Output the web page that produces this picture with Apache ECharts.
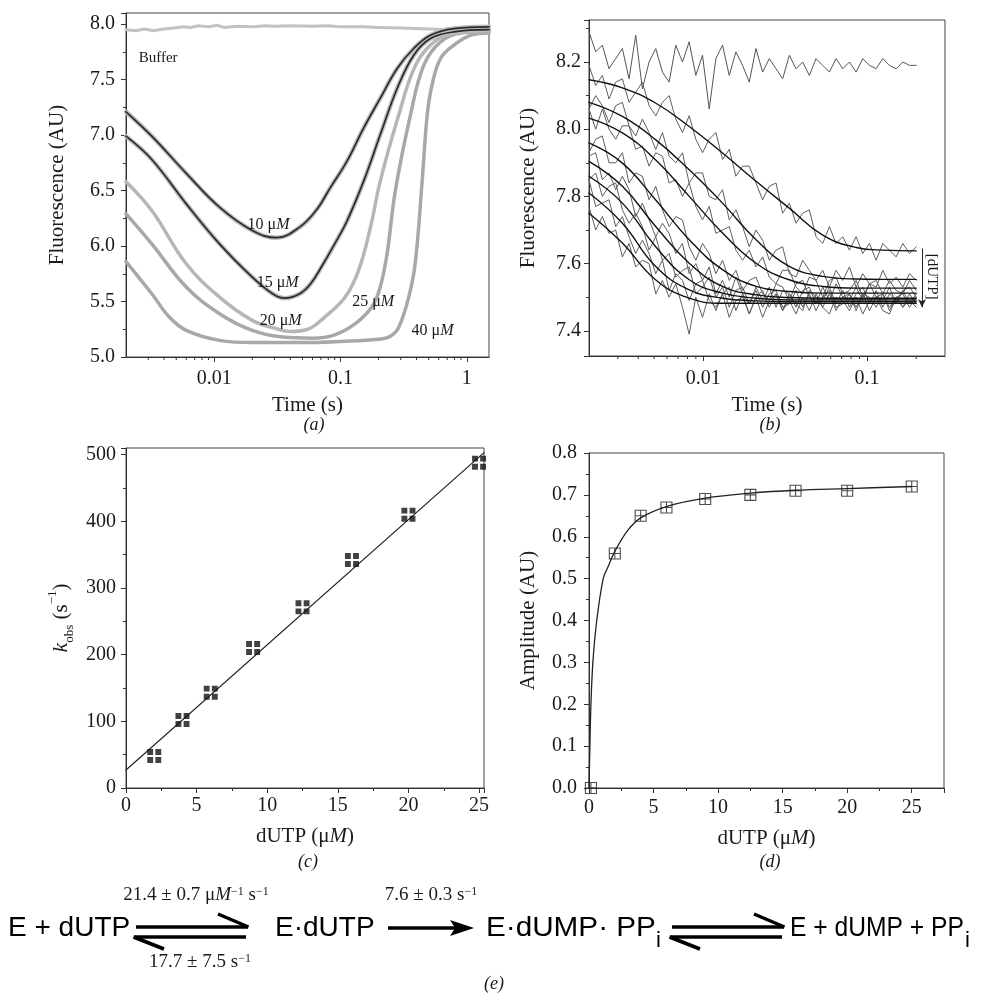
<!DOCTYPE html>
<html><head><meta charset="utf-8">
<script src="https://cdn.jsdelivr.net/npm/echarts@6/dist/echarts.min.js"></script>
<style>html,body{margin:0;padding:0;background:#fff}#c{width:988px;height:996px}</style>
</head><body><div id="c"></div>
<script>
// ---------------- Panel (a): fluorescence vs time (log) ----------------
const A_BUF = [[0.002,7.95],[0.0024,7.94],[0.0028,7.955],[0.0033,7.94],[0.004,7.955],[0.0048,7.965],[0.0056,7.975],[0.0065,7.97],[0.0075,7.985],[0.009,7.975],[0.0105,7.99],[0.012,7.97],[0.015,7.98],[0.02,7.975],[0.025,7.985],[0.03,7.98],[0.04,7.985],[0.06,7.98],[0.08,7.985],[0.1,7.975],[0.15,7.975],[0.2,7.97],[0.3,7.965],[0.5,7.955],[0.7,7.95],[1.0,7.95],[1.5,7.955]];
const A_10 = [[0.002,7.21],[0.0032,6.99],[0.006,6.655],[0.011,6.35],[0.02,6.14],[0.031,6.075],[0.0475,6.17],[0.065,6.33],[0.0824,6.52],[0.112,6.76],[0.152,7.06],[0.206,7.33],[0.281,7.60],[0.38,7.78],[0.516,7.90],[0.79,7.96],[1.5,7.975]];
const A_15 = [[0.002,6.99],[0.0032,6.78],[0.006,6.38],[0.011,6.02],[0.02,5.72],[0.029,5.57],[0.036,5.53],[0.0475,5.57],[0.058,5.66],[0.073,5.84],[0.09,6.02],[0.112,6.22],[0.152,6.58],[0.206,7.0],[0.281,7.42],[0.38,7.72],[0.516,7.87],[0.79,7.93],[1.5,7.95]];
const A_20 = [[0.002,6.58],[0.0032,6.32],[0.006,5.84],[0.011,5.54],[0.02,5.33],[0.03,5.26],[0.04,5.23],[0.055,5.25],[0.075,5.36],[0.109,5.54],[0.139,5.78],[0.172,6.16],[0.206,6.58],[0.289,7.18],[0.393,7.63],[0.55,7.84],[0.8,7.92],[1.5,7.94]];
const A_25 = [[0.002,6.29],[0.0032,6.02],[0.006,5.63],[0.011,5.39],[0.02,5.24],[0.035,5.18],[0.06,5.17],[0.09,5.20],[0.131,5.30],[0.177,5.45],[0.205,5.62],[0.233,5.92],[0.272,6.5],[0.358,7.18],[0.457,7.63],[0.62,7.84],[0.9,7.92],[1.5,7.93]];
const A_40 = [[0.002,5.86],[0.0032,5.57],[0.0044,5.36],[0.006,5.24],[0.011,5.15],[0.02,5.13],[0.05,5.13],[0.1,5.14],[0.2,5.16],[0.25,5.19],[0.29,5.27],[0.347,5.54],[0.39,5.84],[0.443,6.58],[0.486,7.18],[0.533,7.46],[0.62,7.69],[0.79,7.81],[1.08,7.90],[1.5,7.92]];
const A_LABELS = [
  {text:'Buffer', at:[0.00252,7.69], align:'left'},
  {text:'10 μ{i|M}', at:[0.0269,6.19], align:'center'},
  {text:'15 μ{i|M}', at:[0.0318,5.665], align:'center'},
  {text:'20 μ{i|M}', at:[0.0336,5.33], align:'center'},
  {text:'25 μ{i|M}', at:[0.1815,5.495], align:'center'},
  {text:'40 μ{i|M}', at:[0.536,5.233], align:'center'}
];
const LOG_MINOR_A = [0.003,0.004,0.005,0.006,0.007,0.008,0.009,0.02,0.03,0.04,0.05,0.06,0.07,0.08,0.09,0.2,0.3,0.4,0.5,0.6,0.7,0.8,0.9];

// ---------------- Panel (b): noisy traces + fits ----------------
const B_T = [0.002,0.002197,0.002413,0.002651,0.002912,0.003199,0.003514,0.00386,0.00424,0.004658,0.005117,0.005623,0.006176,0.006785,0.007453,0.008188,0.008995,0.009883,0.01086,0.01193,0.0131,0.0144,0.01581,0.01737,0.01908,0.02096,0.02303,0.0253,0.0278,0.03053,0.03354,0.03685,0.04048,0.04446,0.04885,0.05366,0.05895,0.06476,0.07113,0.07815,0.08586,0.0943,0.1036,0.1138,0.125,0.1373,0.1509,0.1657,0.1821,0.2];
const B_BUF = [8.29,8.23,8.25,8.18,8.21,8.24,8.15,8.28,8.12,8.20, 8.24,8.17,8.14,8.25,8.20,8.26,8.16,8.22,8.06,8.21, 8.25,8.16,8.23,8.19,8.14,8.24,8.17,8.21,8.18,8.15, 8.22,8.18,8.20,8.16,8.21,8.19,8.17,8.21,8.18,8.20, 8.17,8.21,8.19,8.18,8.21,8.19,8.18,8.20,8.19,8.19];
const B_D1 = [8.19,8.13,8.16,8.09,8.14,8.15,8.08,8.11,8.14,8.07, 8.04,8.08,8.10,8.03,7.99,8.04,7.97,7.93,7.97,7.99, 7.91,7.94,7.86,7.89,7.89,7.84,7.79,7.83,7.84,7.75, 7.78,7.72,7.75,7.76,7.68,7.66,7.71,7.66,7.68,7.64, 7.68,7.63,7.66,7.61,7.66,7.64,7.62,7.66,7.63,7.65];
const B_D2 = [8.06,8.10,8.07,8.02,8.07,8.08,8.01,7.98,8.03,7.99, 7.94,7.99,7.92,7.90,7.93,7.84,7.87,7.87,7.80,7.79, 7.82,7.73,7.76,7.71,7.65,7.70,7.67,7.61,7.64,7.65, 7.57,7.56,7.61,7.58,7.55,7.58,7.53,7.58,7.55,7.59, 7.53,7.57,7.54,7.53,7.58,7.54,7.56,7.53,7.57,7.55];
const B_D3 = [8.06,8.00,8.06,8.00,7.97,8.01,8.01,7.94,7.95,7.89, 7.93,7.92,7.84,7.85,7.80,7.84,7.77,7.73,7.77,7.69, 7.70,7.71,7.64,7.61,7.64,7.59,7.62,7.56,7.54,7.58, 7.58,7.53,7.51,7.56,7.55,7.50,7.55,7.56,7.51,7.52, 7.55,7.50,7.54,7.55,7.51,7.55,7.52,7.51,7.55,7.52];
const B_D4 = [7.93,7.97,7.98,7.90,7.90,7.93,7.84,7.87,7.86,7.79, 7.83,7.76,7.71,7.74,7.73,7.65,7.61,7.66,7.63,7.57, 7.61,7.55,7.58,7.52,7.55,7.56,7.51,7.49,7.54,7.53, 7.49,7.54,7.55,7.50,7.48,7.53,7.49,7.54,7.50,7.49, 7.53,7.49,7.54,7.50,7.49,7.53,7.48,7.52,7.53,7.50];
const B_D5 = [7.92,7.93,7.85,7.87,7.82,7.86,7.82,7.74,7.78,7.73, 7.68,7.72,7.69,7.63,7.66,7.57,7.60,7.55,7.59,7.51, 7.55,7.50,7.56,7.51,7.48,7.53,7.49,7.53,7.47,7.52, 7.51,7.47,7.52,7.53,7.48,7.49,7.53,7.48,7.52,7.47, 7.51,7.53,7.48,7.52,7.47,7.51,7.49,7.52,7.48,7.51];
const B_D6 = [7.85,7.87,7.80,7.83,7.84,7.76,7.72,7.75,7.71,7.64, 7.68,7.61,7.63,7.56,7.58,7.59,7.51,7.53,7.56,7.50, 7.53,7.47,7.52,7.53,7.48,7.52,7.47,7.51,7.52,7.47, 7.48,7.52,7.47,7.51,7.46,7.50,7.52,7.47,7.48,7.51, 7.47,7.51,7.46,7.50,7.51,7.47,7.50,7.47,7.51,7.48];
const B_D7 = [7.85,7.77,7.78,7.79,7.71,7.74,7.68,7.63,7.67,7.63, 7.57,7.61,7.52,7.57,7.55,7.49,7.54,7.55,7.49,7.47, 7.51,7.53,7.46,7.51,7.45,7.50,7.52,7.47,7.51,7.46, 7.51,7.48,7.46,7.52,7.50,7.47,7.51,7.46,7.50,7.51, 7.46,7.51,7.50,7.47,7.51,7.46,7.50,7.51,7.47,7.50];
const B_D8 = [7.77,7.70,7.74,7.69,7.70,7.62,7.66,7.59,7.61,7.60, 7.51,7.55,7.50,7.54,7.47,7.39,7.50,7.44,7.51,7.46, 7.51,7.44,7.49,7.50,7.45,7.50,7.44,7.49,7.51,7.46, 7.49,7.45,7.50,7.46,7.51,7.47,7.45,7.50,7.49,7.46, 7.50,7.45,7.49,7.50,7.46,7.45,7.50,7.47,7.49,7.47];
const B_FIT_T = [0.002,0.0032,0.0051,0.0082,0.0131,0.021,0.0335,0.0537,0.0859,0.125,0.2];
const B_F1 = [8.147,8.123,8.078,8.008,7.929,7.845,7.765,7.685,7.648,7.640,7.638];
const B_F2 = [8.080,8.038,7.969,7.879,7.780,7.671,7.592,7.562,7.554,7.553,7.553];
const B_F3 = [8.033,7.989,7.909,7.800,7.691,7.601,7.552,7.532,7.527,7.527,7.527];
const B_F4 = [7.959,7.899,7.790,7.671,7.582,7.532,7.517,7.512,7.512,7.512,7.512];
const B_F5 = [7.904,7.830,7.711,7.601,7.532,7.507,7.499,7.497,7.497,7.497,7.497];
const B_F6 = [7.860,7.780,7.651,7.552,7.512,7.497,7.492,7.492,7.492,7.492,7.492];
const B_F7 = [7.810,7.720,7.592,7.522,7.497,7.489,7.487,7.487,7.487,7.487,7.487];
const B_F8 = [7.750,7.661,7.552,7.497,7.482,7.482,7.482,7.482,7.482,7.482,7.482];
const B_ARROW = [[0.217,7.645],[0.217,7.47]];
const B_ARROW_LABEL = [0.249,7.561];
const LOG_MINOR_B = [0.003,0.004,0.005,0.006,0.007,0.008,0.009,0.02,0.03,0.04,0.05,0.06,0.07,0.08,0.09,0.2];

// ---------------- Panel (c): kobs vs dUTP ----------------
const C_X = [2,4,6,9,12.5,16,20,25];
const C_Y = [48,102,143,210,271,342,410,488];
const C_FIT_X = [0,25.35];
const C_FIT_Y = [27,503];

// ---------------- Panel (d): amplitude vs dUTP ----------------
const D_X = [0.15,2,4,6,9,12.5,16,20,25];
const D_Y = [0.0,0.56,0.65,0.67,0.69,0.70,0.71,0.71,0.72];
const D_FIT_X = [0,0.07,0.15,0.3,0.6,1.1,1.5,2,3,4,6,9,12.5,16,20,25];
const D_FIT_Y = [0,0.1,0.2,0.3,0.4,0.5,0.53,0.565,0.615,0.645,0.672,0.692,0.704,0.711,0.715,0.72];

// ---------------- Rendering ----------------
const SERIF = 'Liberation Serif', SANS = 'Liberation Sans';
const INK = '#1a1a1a', LINE = '#333';
const pairs = (xs, ys) => xs.map((x, i) => [x, ys[i]]);
function clean(o){ Object.keys(o).forEach(k=>{ if(o[k]===undefined) delete o[k]; else if(o[k] && typeof o[k]==='object' && !Array.isArray(o[k])) clean(o[k]); }); return o; }
const RICH = {
  i:{fontStyle:'italic',fontFamily:SERIF,fontSize:21,color:INK},
  k:{fontStyle:'italic',fontFamily:SERIF,fontSize:22,color:INK,lineHeight:30},
  sub:{fontFamily:SERIF,fontSize:13,color:INK,verticalAlign:'bottom',lineHeight:14},
  sup:{fontFamily:SERIF,fontSize:13,color:INK,verticalAlign:'top',lineHeight:14}
};
function mkAxis(o){
  return clean({
    type:o.type, gridIndex:o.grid, min:o.min, max:o.max, interval:o.interval,
    minInterval:o.minInterval, maxInterval:o.maxInterval, splitNumber:o.splitNumber,
    logBase:o.type==='log'?10:undefined,
    name:o.name, nameLocation:'middle', nameGap:o.nameGap,
    nameTextStyle:{color:INK,fontFamily:SERIF,fontSize:21,lineHeight:30,rich:RICH},
    axisLine:{show:true,onZero:false,lineStyle:{color:LINE,width:1}},
    axisTick:{show:true,inside:false,length:5,lineStyle:{color:LINE,width:1}},
    minorTick:{show:o.type!=='log',splitNumber:2,length:3,lineStyle:{color:LINE,width:1}},
    splitLine:{show:false}, minorSplitLine:{show:false},
    axisLabel:{color:INK,fontFamily:SERIF,fontSize:20,margin:o.margin,formatter:o.fmt,
      showMinLabel:o.hideMin?false:undefined, showMaxLabel:o.hideMax?false:undefined}
  });
}
const logFmt = v => String(+(+v).toPrecision(2));
const f1 = v => (+v).toFixed(1);

const grids = [
  {left:126,top:13,width:363,height:344},
  {left:589,top:20,width:356,height:336},
  {left:126,top:448,width:358,height:340},
  {left:589,top:453,width:355,height:335}
].map(g => Object.assign(g,{show:true,borderColor:'#444',borderWidth:1,backgroundColor:'transparent',containLabel:false,outerBoundsMode:'none'}));

const xAxes = [
  mkAxis({type:'log',grid:0,min:0.002,max:1.5,name:'Time (s)',nameGap:33,margin:12,fmt:logFmt,hideMin:true,hideMax:true}),
  mkAxis({type:'log',grid:1,min:0.002,max:0.3,name:'Time (s)',nameGap:34,margin:13,fmt:logFmt,hideMin:true,hideMax:true}),
  mkAxis({type:'value',grid:2,min:0,max:25.35,interval:5,name:'dUTP (μ{i|M})',nameGap:33,margin:8,hideMax:true}),
  mkAxis({type:'value',grid:3,min:0,max:27.5,interval:5,name:'dUTP (μ{i|M})',nameGap:35,margin:10,hideMax:true})
];
const yAxes = [
  mkAxis({type:'value',grid:0,min:5.0,max:8.1,interval:0.5,name:'Fluorescence (AU)',nameGap:54,margin:11,fmt:f1,hideMax:true}),
  mkAxis({type:'value',grid:1,min:7.325,max:8.325,splitNumber:5,minInterval:0.2,maxInterval:0.2,name:'Fluorescence (AU)',nameGap:46,margin:8,fmt:f1,hideMin:true,hideMax:true}),
  mkAxis({type:'value',grid:2,min:0,max:510,interval:100,name:'{k|k}{sub|obs} (s{sup|−1})',nameGap:50,margin:10,hideMax:true}),
  mkAxis({type:'value',grid:3,min:0,max:0.8,interval:0.1,name:'Amplitude (AU)',nameGap:46,margin:12,fmt:f1})
];

function line(gi, data, color, width, z, smooth){
  return {type:'line',xAxisIndex:gi,yAxisIndex:gi,data:data,symbol:'none',showSymbol:false,
    smooth:smooth===undefined?0.4:smooth,lineStyle:{color:color,width:width,cap:'round',join:'round'},z:z,silent:true,animation:false};
}
function minorLogTicks(gi, vals, ymin){
  return {type:'custom',xAxisIndex:gi,yAxisIndex:gi,silent:true,clip:false,z:6,animation:false,
    data: vals.map(t=>[t, ymin]),
    renderItem:(params, api)=>{
      const x = api.coord([api.value(0), api.value(1)])[0];
      const cs = params.coordSys; const yb = cs.y + cs.height;
      return {type:'line',shape:{x1:x,y1:yb,x2:x,y2:yb+3},style:{stroke:LINE,lineWidth:1}};
    }};
}

const series = [
  // (a)
  line(0, A_BUF, '#c2c2c2', 3, 2, 0),
  line(0, A_40, '#a8a8a8', 3.5, 2),
  line(0, A_25, '#a8a8a8', 3.5, 2),
  line(0, A_20, '#b6b6b6', 3.5, 2),
  line(0, A_15, '#bcbcbc', 4.5, 2),
  line(0, A_10, '#bcbcbc', 4.5, 2),
  line(0, A_15, '#2a2a2a', 1.7, 4),
  line(0, A_10, '#2a2a2a', 1.7, 4),
  minorLogTicks(0, LOG_MINOR_A, 5.0),
  // (b) data
  line(1, pairs(B_T,B_BUF), '#555', 1, 2, 0),
  line(1, pairs(B_T,B_D1), '#5e5e5e', 1, 2, 0),
  line(1, pairs(B_T,B_D2), '#5e5e5e', 1, 2, 0),
  line(1, pairs(B_T,B_D3), '#5e5e5e', 1, 2, 0),
  line(1, pairs(B_T,B_D4), '#5e5e5e', 1, 2, 0),
  line(1, pairs(B_T,B_D5), '#5e5e5e', 1, 2, 0),
  line(1, pairs(B_T,B_D6), '#5e5e5e', 1, 2, 0),
  line(1, pairs(B_T,B_D7), '#5e5e5e', 1, 2, 0),
  line(1, pairs(B_T,B_D8), '#5e5e5e', 1, 2, 0),
  // (b) fits
  line(1, pairs(B_FIT_T,B_F1), '#111', 1.4, 4, 0.45),
  line(1, pairs(B_FIT_T,B_F2), '#111', 1.4, 4, 0.45),
  line(1, pairs(B_FIT_T,B_F3), '#111', 1.4, 4, 0.45),
  line(1, pairs(B_FIT_T,B_F4), '#111', 1.4, 4, 0.45),
  line(1, pairs(B_FIT_T,B_F5), '#111', 1.4, 4, 0.45),
  line(1, pairs(B_FIT_T,B_F6), '#111', 1.4, 4, 0.45),
  line(1, pairs(B_FIT_T,B_F7), '#111', 1.4, 4, 0.45),
  Object.assign(line(1, pairs(B_FIT_T,B_F8), '#111', 1.4, 4, 0.45), {
    markLine:{silent:true,symbol:['none','arrow'],symbolSize:[6,8],animation:false,
      lineStyle:{color:'#222',width:1,type:'solid'},label:{show:false},
      data:[[{coord:B_ARROW[0]},{coord:B_ARROW[1]}]]}
  }),
  minorLogTicks(1, LOG_MINOR_B, 7.325),
  // (c)
  line(2, pairs(C_FIT_X,C_FIT_Y), '#222', 1.2, 3, 0),
  {type:'scatter',xAxisIndex:2,yAxisIndex:2,data:pairs(C_X,C_Y),silent:true,animation:false,z:4,
    symbol:'path://M0,0H4.2V4.2H0Z M5.8,0H10V4.2H5.8Z M0,5.8H4.2V10H0Z M5.8,5.8H10V10H5.8Z',symbolSize:14,
    itemStyle:{color:'#111'}},
  // (d)
  line(3, pairs(D_FIT_X,D_FIT_Y), '#222', 1.3, 3, 0.35),
  {type:'scatter',xAxisIndex:3,yAxisIndex:3,data:pairs(D_X,D_Y),silent:true,animation:false,z:4,
    symbol:'path://M0,0H10V10H0Z M5,0V10 M0,5H10',symbolSize:11,
    itemStyle:{color:'transparent',borderColor:'#222',borderWidth:1.1}}
];

const chart = echarts.init(document.getElementById('c'), null, {renderer:'canvas',width:988,height:996});
chart.setOption({animation:false,backgroundColor:'#fff',grid:grids,xAxis:xAxes,yAxis:yAxes,series:series});

// ---------- annotations ----------
const g = [];
function txt(x, y, text, o){
  o = o || {};
  g.push({type:'text',x:x,y:y,scaleX:o.scaleX||1,silent:true,z:50,style:{
    text:text, fill:o.fill||INK, fontFamily:o.family||SERIF, fontSize:o.size||16, fontStyle:o.italic?'italic':'normal',
    align:o.align||'left', textAlign:o.align||'left', verticalAlign:'middle', textVerticalAlign:'middle',
    rich:o.rich}});
}
function seg(x1,y1,x2,y2,w){ g.push({type:'line',silent:true,z:50,shape:{x1:x1,y1:y1,x2:x2,y2:y2},style:{stroke:'#000',lineWidth:w||3.5,lineCap:'butt'}}); }
function poly(pts){ g.push({type:'polygon',silent:true,z:50,shape:{points:pts},style:{fill:'#000'}}); }

const labRich = {i:{fontStyle:'italic',fontFamily:SERIF,fontSize:16,fill:INK,color:INK}};
A_LABELS.forEach(l => {
  const p = chart.convertToPixel({xAxisIndex:0,yAxisIndex:0}, l.at);
  txt(p[0], p[1], l.text, {size: l.text==='Buffer'?15:16, align:l.align, rich:labRich});
});
const pb = chart.convertToPixel({xAxisIndex:1,yAxisIndex:1}, B_ARROW_LABEL);
g.push({type:'text',x:pb[0],y:pb[1],rotation:-Math.PI/2,silent:true,z:50,style:{text:'[dUTP]',fill:INK,fontFamily:SERIF,fontSize:15,
  align:'center',textAlign:'center',verticalAlign:'middle',textVerticalAlign:'middle'}});

// panel captions
txt(314, 425, '(a)', {italic:true, size:18, align:'center'});
txt(770, 425, '(b)', {italic:true, size:18, align:'center'});
txt(308, 862, '(c)', {italic:true, size:18, align:'center'});
txt(770, 862, '(d)', {italic:true, size:18, align:'center'});
txt(494, 984, '(e)', {italic:true, size:18, align:'center'});

// scheme (e)
const Y0 = 928;
const supRich = {s:{fontFamily:SERIF,fontSize:12,verticalAlign:'top',lineHeight:12,fill:INK,color:INK},
                 i:{fontFamily:SERIF,fontSize:19,fontStyle:'italic',fill:INK,color:INK}};
txt(8, Y0, 'E + dUTP', {family:SANS, size:28, fill:'#000'});
seg(136, Y0-1, 248, Y0-1); seg(248.5, Y0-1, 218, Y0-14);
seg(134, Y0+9, 246, Y0+9); seg(133.5, Y0+9, 164, Y0+21);
txt(196, 895, '21.4 ± 0.7 μ{i|M}{s|−1} s{s|−1}', {size:19, align:'center', rich:supRich});
txt(200, 962, '17.7 ± 7.5 s{s|−1}', {size:19, align:'center', rich:supRich});
txt(275, Y0, 'E·dUTP', {family:SANS, size:28, fill:'#000'});
seg(388, Y0, 460, Y0); poly([[474,Y0],[450,Y0-8],[455,Y0],[450,Y0+8]]);
txt(431, 895, '7.6 ± 0.3 s{s|−1}', {size:19, align:'center', rich:supRich});
txt(486, Y0, 'E·dUMP· PP', {family:SANS, size:28, fill:'#000', scaleX:1.06});
txt(656, Y0+13, 'i', {family:SANS, size:22, fill:'#000'});
seg(672, Y0-1, 784, Y0-1); seg(784.5, Y0-1, 754, Y0-14);
seg(670, Y0+9, 782, Y0+9); seg(669.5, Y0+9, 700, Y0+21);
txt(790, Y0, 'E + dUMP + PP', {family:SANS, size:28, fill:'#000', scaleX:0.88});
txt(965, Y0+13, 'i', {family:SANS, size:22, fill:'#000'});

chart.setOption({graphic:{elements:g}});
</script>
</body></html>
